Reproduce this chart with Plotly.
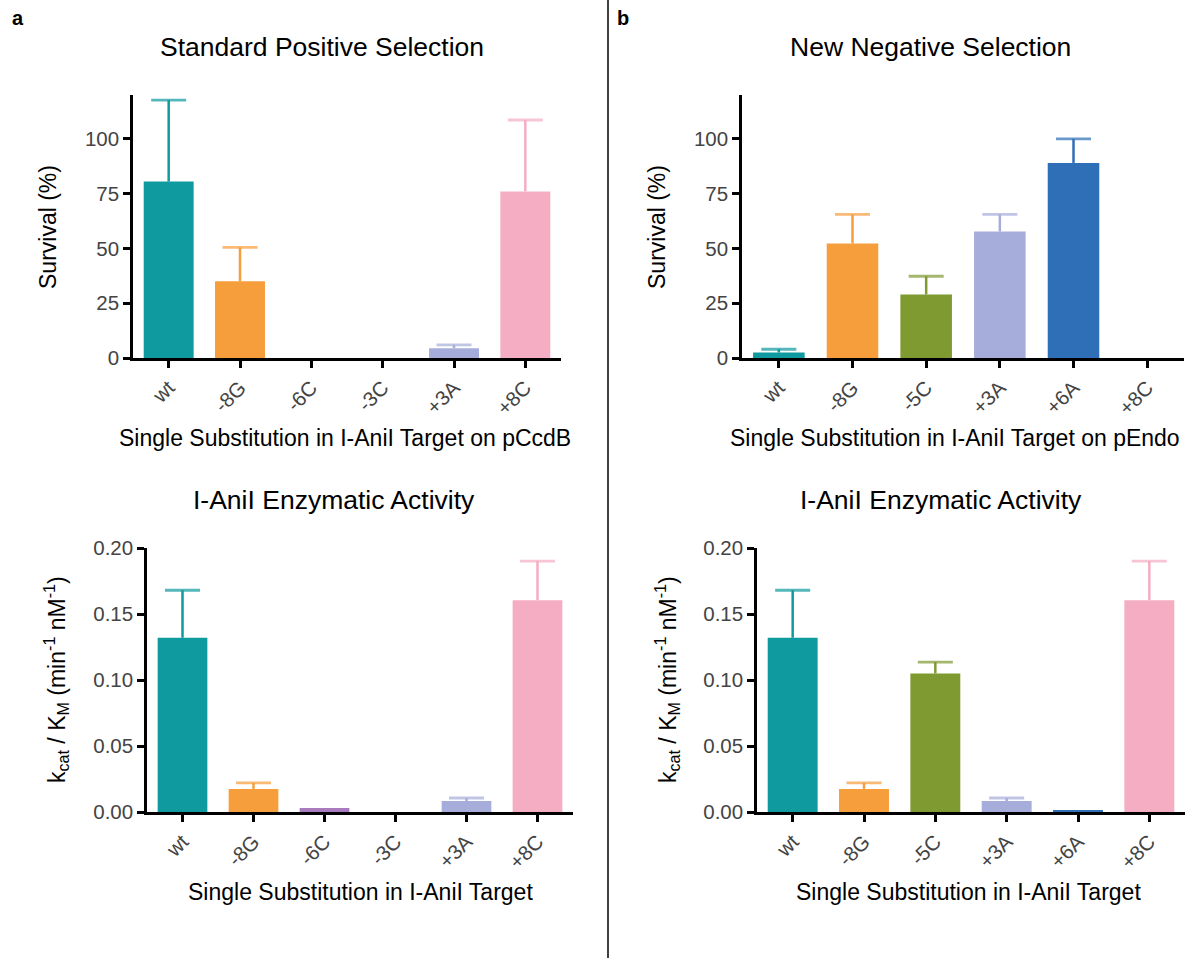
import plotly.graph_objects as go

# ---------------- data ----------------
cats_a = ["wt", "-8G", "-6C", "-3C", "+3A", "+8C"]
cats_b = ["wt", "-8G", "-5C", "+3A", "+6A", "+8C"]

surv_a = [80.5, 35.0, 0.0, 0.0, 4.5, 76.0]
surv_a_err = [37.2, 15.5, None, None, 1.5, 32.6]

surv_b = [2.5, 52.3, 29.0, 57.7, 89.0, 0.0]
surv_b_err = [1.5, 13.2, 8.3, 7.8, 11.0, None]

act_a = [0.132, 0.0175, 0.003, 0.0, 0.0083, 0.1605]
act_a_err = [0.036, 0.0045, None, None, 0.0023, 0.0295]

act_b = [0.132, 0.0175, 0.105, 0.0083, 0.001, 0.1605]
act_b_err = [0.036, 0.0045, 0.0086, 0.0023, None, 0.0295]

colors = {
    "wt": "#0e9a9e",
    "-8G": "#f69d3c",
    "-6C": "#a77bbd",
    "-3C": "#888888",
    "+3A": "#a7addb",
    "+8C": "#f4adc3",
    "-5C": "#7f9a31",
    "+6A": "#2f6fb7",
}

FONT = "Arial, Liberation Sans, sans-serif"
W, H = 1187, 958

fig = go.Figure()

panels = [
    (cats_a, surv_a, surv_a_err, ""),
    (cats_b, surv_b, surv_b_err, "2"),
    (cats_a, act_a, act_a_err, "3"),
    (cats_b, act_b, act_b_err, "4"),
]

for cats, vals, errs, sfx in panels:
    for c, v, e in zip(cats, vals, errs):
        col = colors[c]
        fig.add_trace(go.Bar(
            x=[c], y=[v], width=0.7,
            marker=dict(color=col, line=dict(width=0)),
            xaxis="x" + sfx, yaxis="y" + sfx,
            showlegend=False, hoverinfo="x+y",
        ))
    # upper error bars (stem + cap) drawn on top of the bars
    for c, v, e in zip(cats, vals, errs):
        if e is None:
            continue
        col = colors[c]
        fig.add_trace(go.Scatter(
            x=[c, c], y=[v, v + e], mode="lines+markers",
            line=dict(color=col, width=2.5),
            marker=dict(symbol="line-ew", size=[0, 25], color=col,
                        line=dict(color=col, width=2.8)),
            xaxis="x" + sfx, yaxis="y" + sfx,
            showlegend=False, hoverinfo="skip", cliponaxis=False,
        ))


def px2x(p):
    return p / W


def px2y(p):
    return 1 - p / H


tickfont = dict(family=FONT, size=20.5, color="#444444")


def xax(cats, x0, x1):
    return dict(
        domain=[px2x(x0), px2x(x1)],
        type="category", categoryorder="array", categoryarray=cats,
        range=[-0.5, 5.5], showline=True, linecolor="black", linewidth=2.5,
        ticks="outside", ticklen=7, tickwidth=2.5, tickcolor="black",
        tickangle=-45, tickfont=tickfont, showgrid=False, zeroline=False,
        fixedrange=True, automargin=False,
    )


def yax(rng, dtick, fmt, y0, y1):
    return dict(
        domain=[px2y(y0), px2y(y1)],
        range=rng, dtick=dtick, tick0=0, tickformat=fmt,
        showline=True, linecolor="black", linewidth=2.5,
        ticks="outside", ticklen=7, tickwidth=2.5, tickcolor="black",
        tickfont=tickfont, showgrid=False, zeroline=False, fixedrange=True,
        automargin=False,
    )


xa1 = xax(cats_a, 133, 561); xa1["anchor"] = "y"
ya1 = yax([0, 120], 25, "d", 358, 95); ya1["anchor"] = "x"
xa2 = xax(cats_b, 742, 1184); xa2["anchor"] = "y2"
ya2 = yax([0, 120], 25, "d", 358, 95); ya2["anchor"] = "x2"
xa3 = xax(cats_a, 147, 573); xa3["anchor"] = "y3"
ya3 = yax([0, 0.2], 0.05, ".2f", 812, 548); ya3["anchor"] = "x3"
xa4 = xax(cats_b, 757, 1185); xa4["anchor"] = "y4"
ya4 = yax([0, 0.2], 0.05, ".2f", 812, 548); ya4["anchor"] = "x4"

fig.update_layout(
    width=W, height=H,
    margin=dict(l=0, r=0, t=0, b=0, pad=0, autoexpand=False),
    paper_bgcolor="white", plot_bgcolor="white",
    barmode="overlay",
    font=dict(family=FONT, color="black"),
    xaxis=xa1, yaxis=ya1, xaxis2=xa2, yaxis2=ya2,
    xaxis3=xa3, yaxis3=ya3, xaxis4=xa4, yaxis4=ya4,
)


def ann(text, x, y, size, angle=0, bold=False):
    if bold:
        text = "<b>" + text + "</b>"
    fig.add_annotation(
        text=text, x=px2x(x), y=px2y(y), xref="paper", yref="paper",
        showarrow=False, xanchor="center", yanchor="middle",
        textangle=angle, font=dict(family=FONT, size=size, color="black"),
    )


# titles
ann("Standard Positive Selection", 322, 47, 26.5)
ann("New Negative Selection", 930, 47, 26.5)
ann("I-AniI Enzymatic Activity", 334, 500, 26.5)
ann("I-AniI Enzymatic Activity", 941, 500, 26.5)

# x titles
ann("Single Substitution in I-AniI Target on pCcdB", 345, 438, 23)
ann("Single Substitution in I-AniI Target on pEndo", 955, 438, 23)
ann("Single Substitution in I-AniI Target", 360, 892, 23)
ann("Single Substitution in I-AniI Target", 968, 892, 23)

# y titles
ann("Survival (%)", 48, 227, 23, angle=-90)
ann("Survival (%)", 657, 227, 23, angle=-90)
ytitle = "k<sub>cat</sub> / K<sub>M</sub> (min<sup>-1</sup> nM<sup>-1</sup>)"
ann(ytitle, 56, 680, 23, angle=-90)
ann(ytitle, 667, 680, 23, angle=-90)

# panel letters
ann("a", 18, 18, 20, bold=True)
ann("b", 623, 18, 20, bold=True)

# divider
fig.add_shape(type="line", xref="paper", yref="paper",
              x0=px2x(608), x1=px2x(608), y0=0, y1=1,
              line=dict(color="black", width=1.5))

fig.write_html(
    "out.html",
    config={"responsive": False, "displayModeBar": False},
    post_script="document.body.style.margin='0';document.body.style.overflow='hidden';",
)
